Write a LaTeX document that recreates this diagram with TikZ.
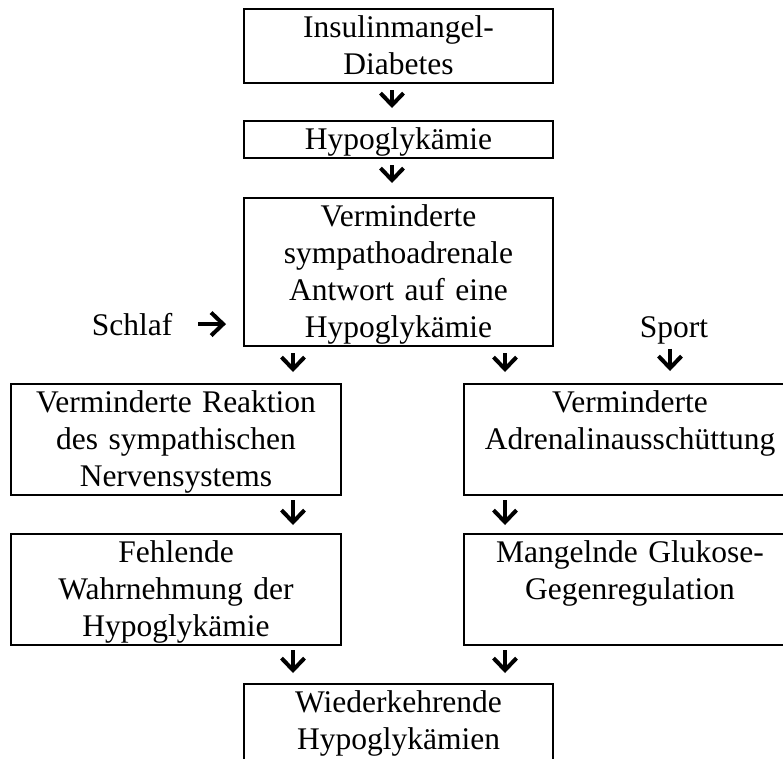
\documentclass[tikz,border=0pt]{standalone}
\usepackage{fontspec}
\setmainfont{Liberation Serif}
\usetikzlibrary{arrows.meta}
\newcommand\zeile{\rule[-9pt]{0pt}{37pt}}

\begin{document}
\begin{tikzpicture}[x=1pt,y=-1pt,
        kasten/.style={draw,line width=2pt,anchor=north,inner sep=0pt,align=center,
          font=\fontsize{31.5}{37}\selectfont,
          execute at begin node=\zeile,execute at end node=\zeile},
        wort/.style={inner sep=0pt,anchor=base,font=\fontsize{31.5}{37}\selectfont},
        pfeil/.style={line width=4pt,-{Straight Barb[length=12pt,width=23pt]}}]
        \useasboundingbox (0,0) rectangle (783,758);
        %columns of the small arrows
        \coordinate (mitte) at (392,0);
        \coordinate (links) at (293,0);
        \coordinate (rechts) at (505,0);
        \coordinate (sportx) at (670,0);
        %boxes
        \node[kasten,text width=309pt] (insulin) at (398.5,8) {Insulinmangel-\\Diabetes};
        \node[kasten,text width=309pt] (hypo) at (398.5,120) {Hypoglyk\"amie};
        \node[kasten,text width=309pt] (antwort) at (398.5,197)
            {Verminderte\\sympathoadrenale\\Antwort auf eine\\Hypoglyk\"amie};
        \node[kasten,text width=330pt] (reaktion) at (176,383)
            {Verminderte Reaktion\\des sympathischen\\Nervensystems};
        \node[kasten,text width=332pt] (adrenalin) at (630,383)
            {Verminderte\\Adrenalinaussch\"uttung\\};
        \node[kasten,text width=330pt] (wahrnehmung) at (176,533)
            {Fehlende\\Wahrnehmung der\\Hypoglyk\"amie};
        \node[kasten,text width=332pt] (gegen) at (630,533)
            {Mangelnde Glukose-\\Gegenregulation\\};
        \node[kasten,text width=309pt] (wieder) at (398.5,683)
            {Wiederkehrende\\Hypoglyk\"amien\\};
        %side labels
        \node[wort] (schlaf) at (132,335) {Schlaf};
        \node[wort] (sport) at (674,337) {Sport};
        %arrows
        \draw[pfeil,shorten <=6pt,shorten >=12pt] (insulin.south -| mitte) -- (hypo.north -| mitte);
        \draw[pfeil,shorten <=6pt,shorten >=14pt] (hypo.south -| mitte) -- (antwort.north -| mitte);
        \draw[pfeil,shorten <=26pt,shorten >=17pt] (schlaf.east) -- (schlaf.east -| antwort.west);
        \draw[pfeil,shorten <=5pt,shorten >=12pt] (sport.south -| sportx) -- (adrenalin.north -| sportx);
        \foreach \spalte/\oben/\unten in {links/antwort/reaktion, rechts/antwort/adrenalin}
        \draw[pfeil,shorten <=6pt,shorten >=11pt] (\oben.south -| \spalte) -- (\unten.north -| \spalte);
        \foreach \spalte/\oben/\unten in {links/reaktion/wahrnehmung, rechts/adrenalin/gegen}
        \draw[pfeil,shorten <=4pt,shorten >=8pt] (\oben.south -| \spalte) -- (\unten.north -| \spalte);
        \foreach \spalte/\oben in {links/wahrnehmung, rechts/gegen}
        \draw[pfeil,shorten <=4pt,shorten >=10pt] (\oben.south -| \spalte) -- (wieder.north -| \spalte);
\end{tikzpicture}
\end{document}
